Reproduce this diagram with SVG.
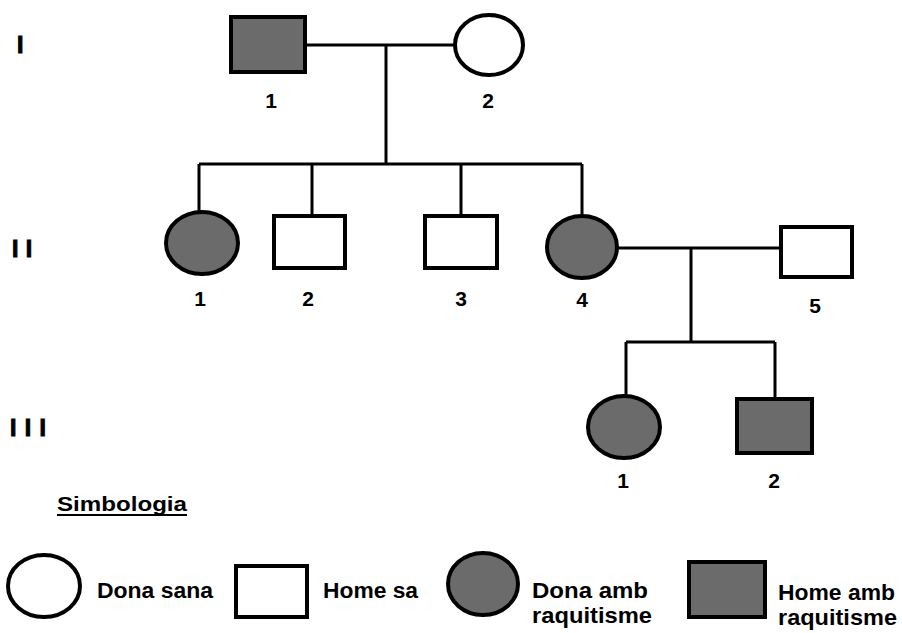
<svg xmlns="http://www.w3.org/2000/svg" width="902" height="633" viewBox="0 0 902 633">
<defs>
<style>
.aff{fill:#6b6b6b;stroke:#000;stroke-width:4}
.ok{fill:#fff;stroke:#000;stroke-width:4}
.ln{fill:none;stroke:#000;stroke-width:3}
.t{font-family:"Liberation Sans",Arial,sans-serif;font-weight:bold;fill:#000}
.num{font-size:21px;text-anchor:middle}
.gen{font-size:23px;stroke:#000;stroke-width:1}
.leg{font-size:22px}
</style>
</defs>
<rect width="902" height="633" fill="#fff"/>
<g id="generations" class="t gen">
<text x="17" y="53">I</text>
<text x="12" y="257" letter-spacing="0.5">I I</text>
<text x="10" y="436" letter-spacing="1">I I I</text>
</g>
<g id="connectors">
<path class="ln" d="M305 45 H455"/>
<path class="ln" d="M386 45 V164"/>
<path class="ln" d="M199 164 H582"/>
<path class="ln" d="M199 164 V213"/>
<path class="ln" d="M312 164 V216"/>
<path class="ln" d="M461 164 V216"/>
<path class="ln" d="M582 164 V215"/>
<path class="ln" d="M617 248 H781"/>
<path class="ln" d="M691 248 V342"/>
<path class="ln" d="M626 342 H775"/>
<path class="ln" d="M626 342 V396"/>
<path class="ln" d="M775 342 V399"/>
</g>
<g id="I-1"><rect class="aff" x="231" y="17" width="74" height="55"/><text class="t num" x="271" y="108">1</text></g>
<g id="I-2"><ellipse class="ok" cx="489" cy="45" rx="34" ry="30"/><text class="t num" x="488" y="108">2</text></g>
<g id="II-1"><ellipse class="aff" cx="202" cy="243" rx="36" ry="31"/><text class="t num" x="200" y="306">1</text></g>
<g id="II-2"><rect class="ok" x="274" y="216" width="71" height="52"/><text class="t num" x="308" y="306">2</text></g>
<g id="II-3"><rect class="ok" x="425" y="216" width="72" height="52"/><text class="t num" x="461" y="306">3</text></g>
<g id="II-4"><ellipse class="aff" cx="582" cy="247" rx="35" ry="31"/><text class="t num" x="582" y="307">4</text></g>
<g id="II-5"><rect class="ok" x="781" y="227" width="71" height="50"/><text class="t num" x="815" y="313">5</text></g>
<g id="III-1"><ellipse class="aff" cx="624" cy="427" rx="36" ry="31"/><text class="t num" x="623" y="488">1</text></g>
<g id="III-2"><rect class="aff" x="737" y="399" width="75" height="54"/><text class="t num" x="774" y="488">2</text></g>
<g id="legend">
<text class="t" x="57" y="511" font-size="21" textLength="130" lengthAdjust="spacingAndGlyphs">Simbologia</text>
<line x1="57" y1="515" x2="187" y2="515" stroke="#000" stroke-width="2"/>
<ellipse class="ok" cx="44" cy="586" rx="36" ry="31"/>
<text class="t leg" x="97" y="598" textLength="116" lengthAdjust="spacingAndGlyphs">Dona sana</text>
<rect class="ok" x="236" y="566" width="71" height="51"/>
<text class="t leg" x="323" y="598" textLength="95" lengthAdjust="spacingAndGlyphs">Home sa</text>
<ellipse class="aff" cx="483" cy="584" rx="35" ry="31"/>
<text class="t leg" x="532" y="598" textLength="116" lengthAdjust="spacingAndGlyphs">Dona amb</text>
<text class="t leg" x="532" y="623" textLength="120" lengthAdjust="spacingAndGlyphs">raquitisme</text>
<rect class="aff" x="689" y="562" width="76" height="55"/>
<text class="t leg" x="778" y="600" textLength="117" lengthAdjust="spacingAndGlyphs">Home amb</text>
<text class="t leg" x="778" y="625" textLength="119" lengthAdjust="spacingAndGlyphs">raquitisme</text>
</g>
</svg>
